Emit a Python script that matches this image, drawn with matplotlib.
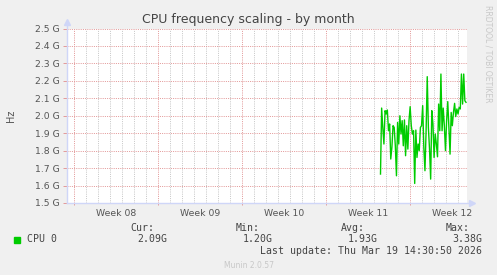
import datetime as dt

import matplotlib
matplotlib.use('Agg')
import matplotlib.pyplot as plt
from matplotlib.transforms import blended_transform_factory
import pandas as pd

# CPU 0 frequency (GHz)
cpu0 = [1.666, 2.044, 1.933, 1.838, 2.029, 2.010, 2.033, 1.914, 1.953, 1.752,
        1.819, 1.943, 1.933, 1.828, 1.656, 1.962, 1.838, 2.000, 1.895, 1.972,
        1.828, 1.976, 1.771, 1.943, 1.809, 1.972, 2.052, 1.943, 1.895, 1.914,
        1.612, 1.918, 1.761, 1.838, 1.800, 1.933, 1.943, 2.058, 1.819, 1.685,
        1.914, 2.224, 1.933, 1.809, 1.637, 2.029, 1.953, 1.761, 1.895, 1.838,
        1.765, 2.067, 1.914, 2.239, 1.914, 2.044, 1.943, 1.800, 1.972, 2.081,
        1.933, 1.780, 2.019, 1.943, 2.019, 2.071, 1.995, 2.039, 2.010, 2.048,
        2.039, 2.239, 2.067, 2.239, 2.086, 2.077]
first_sample = '2026-03-12 13:00'
last_sample = '2026-03-19 16:00'

view_start = dt.datetime(2026, 2, 14, 10, 0)
view_end = dt.datetime(2026, 3, 19, 18, 0)
first_week = dt.datetime(2026, 2, 15)   # week boundaries (Sundays)

y_ticks = [1.5, 1.6, 1.7, 1.8, 1.9, 2.0, 2.1, 2.2, 2.3, 2.4, 2.5]

series_label = 'CPU 0'
stat_names = ['Cur:', 'Min:', 'Avg:', 'Max:']
stat_values = ['2.09G', '1.20G', '1.93G', '3.38G']
last_update = 'Last update: Thu Mar 19 14:30:50 2026'

# munin colours
BACK = '#F0F0F0'
AXIS = '#CFD6F8'
MGRID = '#E39A9A'
GRID = '#C8C8C8'
FONT = '#555555'
LINE = '#00CC00'

W, H = 497, 275
fig = plt.figure(figsize=(W / 100, H / 100), dpi=100, facecolor=BACK)
ax = fig.add_axes([67 / W, 1 - 203 / H, 400 / W, 174.5 / H])
ax.set_facecolor('white')

times = pd.date_range(first_sample, last_sample, periods=len(cpu0))
ax.plot(times, cpu0, color=LINE, lw=1.0, zorder=5)

ax.set_xlim(view_start, view_end)
ax.set_ylim(1.5, 2.5)

# grid: daily gray, weekly red, horizontal red
days = pd.date_range(view_start.date() + dt.timedelta(days=1), view_end, freq='D')
weeks = pd.date_range(first_week, view_end, freq='7D')
dots = (0, (1, 1.2))
for d in days:
    if d not in weeks:
        ax.axvline(d, color=GRID, lw=0.72, ls=dots, zorder=1)
for w in weeks:
    ax.axvline(w, color=MGRID, lw=0.72, ls=dots, zorder=2)
for y in y_ticks[1:]:
    ax.axhline(y, color=MGRID, lw=0.72, ls=dots, zorder=2)

# week labels in the middle of each week
mids = [w + pd.Timedelta(hours=84) for w in weeks]
ax.set_xticks(mids)
ax.set_xticklabels(['Week ' + m.strftime('%V') for m in mids])
ax.tick_params(axis='x', length=0, pad=4, labelsize=6.7, labelcolor=FONT)
trans = blended_transform_factory(ax.transData, ax.transAxes)
ax.vlines(weeks, -0.012, 0, transform=trans, color=MGRID, lw=0.7, clip_on=False)

ax.set_yticks(y_ticks)
ax.set_yticklabels(['%.1f G' % y for y in y_ticks])
ax.tick_params(axis='y', length=3, width=0.7, color=MGRID, pad=2,
               labelsize=6.7, labelcolor=FONT)
ax.set_ylabel('Hz', fontsize=7, color=FONT, labelpad=14)

for s in ax.spines.values():
    s.set_visible(False)

# axis lines with arrows
ax.plot([0, 0], [0, 1.035], transform=ax.transAxes, color=AXIS, lw=1,
        clip_on=False, zorder=6)
ax.plot([0, 1.012], [0, 0], transform=ax.transAxes, color=AXIS, lw=1,
        clip_on=False, zorder=6)
ax.plot(0, 1.035, marker='^', ms=5, color=AXIS, transform=ax.transAxes,
        clip_on=False, zorder=6)
ax.plot(1.012, 0, marker='>', ms=5, color=AXIS, transform=ax.transAxes,
        clip_on=False, zorder=6)

fig.text(248.5 / W, 1 - 19.5 / H, 'CPU frequency scaling - by month',
         ha='center', va='center', fontsize=9, color='#444444')
fig.text(488 / W, 1 - 5 / H, 'RRDTOOL / TOBI OETIKER', rotation=270,
         ha='center', va='top', fontsize=5.5, color='#C8C8C8')

# legend
mono = dict(family='DejaVu Sans Mono', fontsize=7.1, color='#444444', va='center')
fig.patches.append(plt.Rectangle((14 / W, 1 - 243 / H), 6 / W, 6 / H,
                                 transform=fig.transFigure, color=LINE))
fig.text(27 / W, 1 - 239.5 / H, series_label, ha='left', **mono)
name_right = [154, 260, 365, 470]
value_right = [167, 273, 378, 482]
for name, val, xn, xv in zip(stat_names, stat_values, name_right, value_right):
    fig.text(xn / W, 1 - 228 / H, name, ha='right', **mono)
    fig.text(xv / W, 1 - 239.5 / H, val, ha='right', **mono)
fig.text(482 / W, 1 - 251.5 / H, last_update, ha='right', **mono)

fig.text(248.5 / W, 1 - 265 / H, 'Munin 2.0.57', ha='center', va='center',
         fontsize=5.5, color='#C8C8C8')

fig.savefig('out.png', dpi=100, facecolor=BACK)
